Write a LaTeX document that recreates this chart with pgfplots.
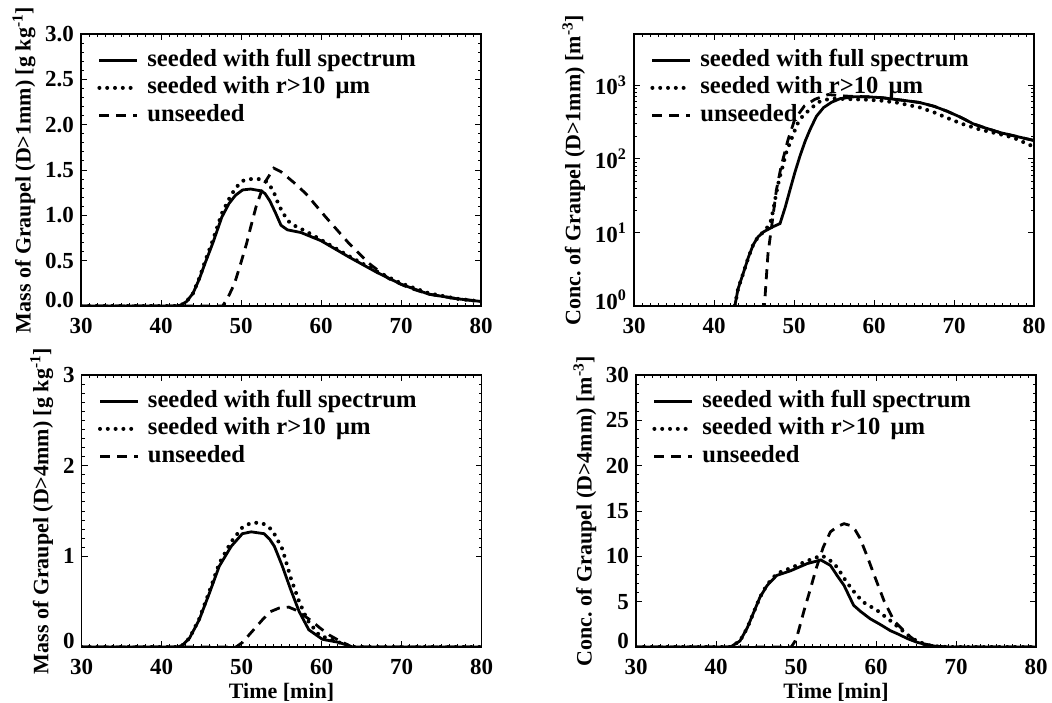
\documentclass[border=0pt]{standalone}
\usepackage{fontspec}
\setmainfont{Liberation Serif}
\usepackage{pgfplots}
\pgfplotsset{compat=1.18}

\pgfplotsset{
  panel/.style={
    scale only axis, width=200pt, height=136pt,
    xmin=30, xmax=80, xtick={30,40,...,80}, minor x tick num=9,
    tick align=inside, major tick length=3pt, minor tick length=1.5pt,
    axis line style={line width=0.6pt},
    every tick/.style={line width=0.5pt, black},
    tick label style={font=\fontsize{11.5}{12}\selectfont\bfseries},
    xticklabel style={/tikz/yshift=-2.5pt},
    label style={font=\fontsize{11}{12}\selectfont\bfseries},
    xlabel style={/tikz/yshift=2.5pt},
    ylabel style={/tikz/yshift=-2pt},
    /pgf/number format/assume math mode=true,
    extra tick style={yticklabel style={/tikz/yshift=3pt}},
    legend cell align=left,
    legend style={draw=none, fill=none, inner sep=0pt,
      at={(axis description cs:0,1)}, anchor=north west,
      xshift=8pt, yshift=-6.5pt,
      font=\fontsize{12.3}{13}\selectfont\bfseries,
      nodes={inner sep=0.5pt, text height=9pt, text depth=3pt},
      row sep=0.75pt, column sep=3.5pt},
    legend image code/.code={\draw[##1] (0pt,0pt) -- (19pt,0pt);},
  },
  sfull/.style={black, line width=1.4pt, solid},
  sr10/.style={black, line width=2pt, line cap=round, dash pattern=on 0pt off 3.9pt},
  suns/.style={black, line width=1.4pt, dash pattern=on 5pt off 3.5pt},
}

\begin{document}
\frenchspacing
\begin{tikzpicture}
\useasboundingbox (0,0) rectangle (526pt,351pt);

% ---------------- Top left ----------------
\begin{axis}[panel, at={(40.5pt,198pt)}, anchor=south west,
  ymin=0, ymax=3, ytick={0.5,1,...,3}, minor y tick num=4,
  yticklabel style={/pgf/number format/fixed, /pgf/number format/fixed zerofill, /pgf/number format/precision=1},
  extra y ticks={0}, extra y tick labels={0.0},
  ylabel={Mass of Graupel (D>1mm) [g kg\textsuperscript{-1}]}]
\addplot[sfull] coordinates {(30,0) (41.8,0) (42.5,0.01) (43.2,0.05) (44,0.14) (44.8,0.30) (45.5,0.47) (46.5,0.70) (47.6,0.98) (48.5,1.13) (49.3,1.22) (50.2,1.28) (51.2,1.29) (52.5,1.27) (53.0,1.24) (53.6,1.16) (54.3,1.03) (55.0,0.89) (55.8,0.84) (57.5,0.81) (60,0.72) (63.5,0.54) (67,0.37) (70,0.24) (73.5,0.13) (77,0.08) (80,0.05)};
\addlegendentry{seeded with full spectrum}
\addplot[sr10] coordinates {(30,0) (41.8,0) (42.5,0.01) (43.2,0.05) (44,0.14) (44.8,0.31) (45.5,0.49) (46.5,0.73) (47.6,1.02) (48.5,1.18) (49.3,1.30) (50.2,1.38) (51,1.40) (52.5,1.40) (53.2,1.37) (54.0,1.28) (54.6,1.14) (55.2,1.03) (56.0,0.93) (57,0.87) (58,0.83) (60,0.73) (63.5,0.55) (67,0.38) (70,0.25) (73.5,0.14) (77,0.08) (80,0.05)};
\addlegendentry{seeded with r>10\, μm}
\addplot[suns] coordinates {(30,0) (47.7,0) (48.3,0.08) (49.2,0.25) (50,0.48) (50.7,0.69) (51.3,0.90) (51.9,1.10) (52.9,1.35) (54.1,1.52) (55.0,1.48) (56.5,1.37) (58.1,1.24) (60.6,0.98) (63.5,0.69) (66,0.47) (68.5,0.30) (71,0.20) (73.5,0.13) (77,0.08) (80,0.05)};
\addlegendentry{unseeded}
\end{axis}

% ---------------- Top right ----------------
\begin{axis}[panel, at={(317pt,198pt)}, anchor=south west,
  ymode=log, ymin=1, ymax=5000, ytick={10,100,1000},
  yticklabels={10\textsuperscript{1},10\textsuperscript{2},10\textsuperscript{3}},
  extra y ticks={1}, extra y tick labels={10\textsuperscript{0}},
  ylabel={Conc. of Graupel (D>1mm) [m\textsuperscript{-3}]}]
\addplot[sfull] coordinates {(42.45,0.8) (42.6,1.0) (43.0,1.7) (43.66,2.8) (44.3,4.6) (44.9,6.8) (45.5,8.7) (46.2,10.2) (47.4,12.0) (48.25,13.2) (48.9,22) (49.5,38) (50.1,65) (50.75,110) (51.4,175) (52.0,250) (52.8,380) (53.7,500) (54.7,590) (55.75,660) (57.5,700) (59.1,700) (61,680) (62.4,650) (64,620) (65.7,585) (67.5,520) (69.1,447) (70.8,370) (72.4,300) (74,262) (75.7,229) (78,200) (80,178)};
\addlegendentry{seeded with full spectrum}
\addplot[sr10] coordinates {(42.45,0.8) (42.6,1.0) (43.0,1.7) (43.66,2.8) (44.3,4.6) (44.9,6.8) (45.5,8.7) (46.2,10.2) (47.0,13) (47.4,20) (47.8,35) (48.2,56) (48.6,80) (49.0,120) (49.5,166) (50.0,230) (50.5,310) (51.2,400) (51.8,450) (53.0,590) (54.0,640) (55,660) (57,650) (59,640) (60.9,620) (63,580) (65.75,500) (67.5,430) (69.1,363) (71,300) (73.25,251) (75.5,220) (77.4,195) (80,146)};
\addlegendentry{seeded with r>10\, μm}
\addplot[suns] coordinates {(46.2,0.8) (46.3,1.0) (46.75,5.2) (47.2,12) (47.8,38) (48.4,80) (49.25,182) (50.1,347) (51.3,525) (52.6,646) (54.25,750) (55.5,730) (57,710) (59.1,700) (61,680) (62.4,650) (64,620) (65.7,585) (67.5,520) (69.1,447) (70.8,370) (72.4,300) (74,262) (75.7,229) (78,200) (80,178)};
\addlegendentry{unseeded}
\end{axis}

% ---------------- Bottom left ----------------
\begin{axis}[panel, at={(40.8pt,27.5pt)}, anchor=south west,
  ymin=0, ymax=3, ytick={1,2,3}, minor y tick num=9,
  extra y ticks={0}, extra y tick labels={0},
  xlabel={Time [min]},
  ylabel={Mass of Graupel (D>4mm) [g kg\textsuperscript{-1}]}]
\addplot[sfull] coordinates {(30,0) (42.0,0) (42.6,0.02) (43.5,0.10) (44.7,0.30) (46.0,0.60) (47.2,0.89) (48.7,1.11) (50.1,1.25) (51.2,1.27) (52.8,1.25) (53.5,1.19) (54.1,1.11) (55.1,0.89) (56.15,0.63) (57.2,0.39) (58.4,0.19) (60.1,0.085) (62.2,0.05) (63.8,0.0) (80,0)};
\addlegendentry{seeded with full spectrum}
\addplot[sr10] coordinates {(30,0) (42.0,0) (42.6,0.02) (43.5,0.10) (44.7,0.31) (46.0,0.62) (47.2,0.92) (48.7,1.16) (50.1,1.32) (51.2,1.37) (52.5,1.37) (53.3,1.33) (53.9,1.28) (55.1,1.08) (56.15,0.76) (57.2,0.50) (58.2,0.30) (59.7,0.13) (62.2,0.05) (64,0) (80,0)};
\addlegendentry{seeded with r>10\, μm}
\addplot[suns] coordinates {(30,0) (49.3,0) (50.1,0.05) (51.3,0.17) (52.6,0.30) (53.6,0.39) (54.7,0.43) (55.9,0.44) (56.7,0.41) (57.6,0.36) (58.7,0.29) (59.8,0.21) (61,0.13) (62.2,0.07) (63.8,0) (80,0)};
\addlegendentry{unseeded}
\end{axis}

% ---------------- Bottom right ----------------
\begin{axis}[panel, at={(318pt,27.5pt)}, anchor=south west,
  ymin=0, ymax=30, ytick={5,10,...,30}, minor y tick num=4,
  extra y ticks={0}, extra y tick labels={0},
  xlabel={Time [min]},
  ylabel={Conc. of Graupel (D>4mm) [m\textsuperscript{-3}]}]
\addplot[sfull] coordinates {(30,0) (41.8,0) (43.0,0.67) (43.9,2.1) (44.7,3.8) (45.5,5.5) (46.4,6.8) (47.6,7.9) (49.3,8.4) (51.4,9.2) (53.1,9.6) (54.3,9.0) (55.2,7.8) (56.0,6.8) (57.2,4.6) (58.1,3.9) (59.3,3.1) (60.5,2.5) (61.8,1.8) (62.7,1.45) (64,0.9) (65.2,0.5) (67.3,0.1) (69,0) (80,0)};
\addlegendentry{seeded with full spectrum}
\addplot[sr10] coordinates {(30,0) (41.8,0) (43.0,0.67) (43.9,2.1) (44.7,3.8) (45.5,5.5) (46.4,6.9) (47.6,8.1) (49.3,8.7) (51.4,9.5) (53.2,10.1) (54.2,9.6) (55.15,8.8) (56.0,7.6) (56.8,6.6) (57.6,5.7) (58.5,4.9) (60.2,4.0) (61.8,2.9) (63.1,1.96) (64,1.3) (65.2,0.6) (67,0.1) (69,0) (80,0)};
\addlegendentry{seeded with r>10\, μm}
\addplot[suns] coordinates {(30,0) (49.4,0) (49.9,0.67) (50.2,1.4) (51.0,4.0) (51.8,6.4) (52.5,8.6) (53.4,11.0) (54.3,12.7) (55.2,13.3) (56.0,13.6) (56.8,13.4) (57.4,12.9) (58.0,12.0) (58.9,10.0) (59.7,8.1) (61.0,5.1) (62.25,2.9) (63.9,1.4) (65.2,0.5) (67,0) (80,0)};
\addlegendentry{unseeded}
\end{axis}
\end{tikzpicture}
\end{document}
